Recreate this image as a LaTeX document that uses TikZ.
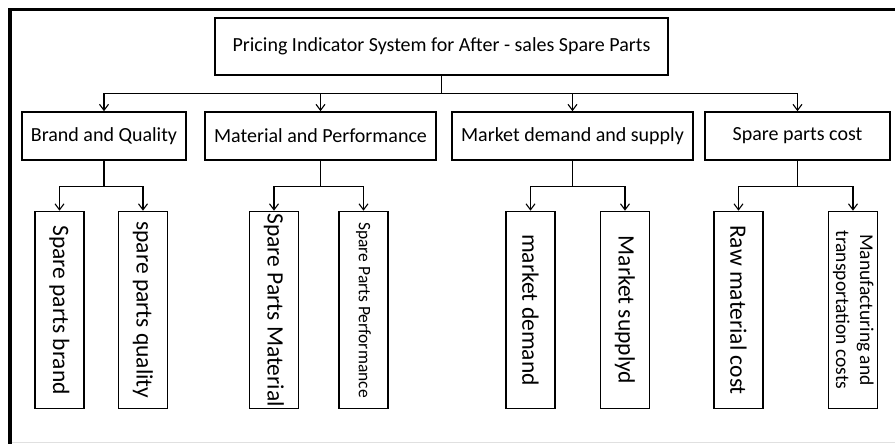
\documentclass[tikz,border=0pt]{standalone}
\usepackage{fontspec}
\setmainfont{Carlito}
\usetikzlibrary{arrows.meta}

\begin{document}
\begin{tikzpicture}[x=1pt, y=-1pt,
    box/.style={draw, line width=1.6pt, inner sep=0pt, minimum height=48pt,
                font=\fontsize{20}{24}\selectfont},
    leaf/.style={draw, line width=1.6pt, inner sep=0pt, minimum width=49pt,
                 minimum height=197pt, font=\fontsize{23.5}{28}\selectfont},
    link/.style={line width=1.1pt, -{Straight Barb[length=6pt,width=9pt]}}]
    \useasboundingbox (0,0) rectangle (895,444);
    % frame
    \draw[line width=3.5pt] (10,444) -- (10,9.5) -- (895,9.5);
    \draw[black!12, line width=1pt] (12,442.5) -- (895,442.5);

    \node[box, minimum width=453pt, minimum height=57pt] (title) at (441.5,46.5)
        {Pricing Indicator System for After - sales Spare Parts};

    \node[box, minimum width=164pt] (brand)    at (104,136)   {Brand and Quality};
    \node[box, minimum width=231pt] (material) at (320.5,136) {Material and Performance};
    \node[box, minimum width=241pt] (market)   at (572.5,136) {Market demand and supply};
    \node[box, minimum width=185pt] (cost)     at (797.5,136) {Spare parts cost};

    \node[leaf] (sbrand)    at (59.5,310)  {\rotatebox{-90}{Spare parts brand}};
    \node[leaf] (squality)  at (143,310)   {\rotatebox{-90}{spare parts quality}};
    \node[leaf] (smaterial) at (274,310)   {\rotatebox{-90}{Spare Parts Material}};
    \node[leaf, font=\fontsize{17.5}{21}\selectfont] (sperf) at (363.5,310)
        {\rotatebox{-90}{Spare Parts Performance}};
    \node[leaf] (mdemand)   at (530.5,310) {\rotatebox{-90}{market demand}};
    \node[leaf] (msupply)   at (625,310)   {\rotatebox{-90}{Market supplyd}};
    \node[leaf] (rawcost)   at (738.5,310) {\rotatebox{-90}{Raw material cost}};
    \node[leaf, font=\fontsize{19.5}{24}\selectfont] (mtcost) at (853,310)
        {\rotatebox{-90}{\begin{tabular}{@{}c@{}}Manufacturing and\\transportation costs\end{tabular}}};

    % first level
    \foreach \n in {brand, material, market, cost}
        \draw[link] (title.south) -- ++(0,18) -| (\n.north);

    % second level
    \foreach \p/\c in {brand/sbrand, brand/squality, material/smaterial, material/sperf,
                       market/mdemand, market/msupply, cost/rawcost, cost/mtcost}
        \draw[link] (\p.south) -- ++(0,26) -| (\c.north);
\end{tikzpicture}
\end{document}
